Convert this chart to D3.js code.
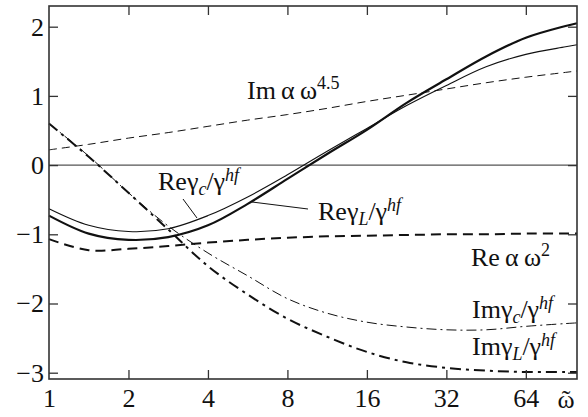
<!DOCTYPE html>
<html>
<head>
<meta charset="utf-8">
<script src="https://cdn.jsdelivr.net/npm/d3@7"></script>
</head>
<body style="margin:0">
<svg id="chart" width="588" height="417"></svg>
<script>
// Reduced frequency samples (log2 steps of one half)
const omega = [1, 1.414, 2, 2.828, 4, 5.657, 8, 11.31, 16, 22.63, 32, 45.25, 64, 90.51, 100];

const reGammaL = [-0.73, -0.99, -1.08, -1.04, -0.87, -0.56, -0.20, 0.16, 0.51, 0.90, 1.24, 1.57, 1.84, 2.01, 2.05];
const reGammaC = [-0.63, -0.87, -0.96, -0.92, -0.73, -0.46, -0.14, 0.20, 0.53, 0.86, 1.15, 1.42, 1.60, 1.71, 1.74];
const reAlpha  = [-1.07, -1.23, -1.21, -1.17, -1.12, -1.08, -1.05, -1.03, -1.02, -1.01, -1.00, -1.00, -0.99, -0.99, -0.99];
const imAlpha  = [0.22, 0.30, 0.39, 0.47, 0.56, 0.65, 0.73, 0.82, 0.92, 1.01, 1.10, 1.19, 1.27, 1.34, 1.36];
const imGammaC = [0.60, 0.13, -0.40, -0.88, -1.27, -1.60, -1.93, -2.14, -2.27, -2.34, -2.38, -2.38, -2.33, -2.29, -2.28];
const imGammaL = [0.60, 0.12, -0.40, -0.93, -1.46, -1.87, -2.22, -2.48, -2.70, -2.85, -2.93, -2.97, -2.99, -2.99, -2.99];

const xTicks = [1, 2, 4, 8, 16, 32, 64];
const yTicks = [-3, -2, -1, 0, 1, 2];

const FONT = '"Liberation Serif"';
const svg = d3.select("#chart");
const L = 49, R = 577, T = 6, B = 379;

const x = d3.scaleLog().domain([1, 100]).range([L, R]);
const y = d3.scaleLinear().domain([-3.091, 2.299]).range([B, T]);

function serif(sel, size) {
  return sel.style("font-family", FONT, "important").style("font-size", size + "px", "important");
}

// zero line
svg.append("line")
  .attr("x1", L).attr("x2", R)
  .attr("y1", y(0)).attr("y2", y(0))
  .attr("stroke", "#555").attr("stroke-width", 1.4);

// series
const series = [
  { v: imAlpha,  w: 1.0, dash: "8,5" },
  { v: reAlpha,  w: 2.0, dash: "10,6" },
  { v: reGammaC, w: 1.1, dash: null },
  { v: reGammaL, w: 2.2, dash: null },
  { v: imGammaC, w: 1.0, dash: "10,4,2,4" },
  { v: imGammaL, w: 2.0, dash: "11,5,3,5" }
];

const line = d3.line()
  .x((d, i) => x(omega[i]))
  .y(d => y(d))
  .curve(d3.curveCatmullRom.alpha(0.5));

const plot = svg.append("g");
series.forEach(s => {
  plot.append("path")
    .attr("d", line(s.v))
    .attr("fill", "none")
    .attr("stroke", "#111")
    .attr("stroke-width", s.w)
    .attr("stroke-dasharray", s.dash);
});

// axes with inward ticks on all four sides
const tickLen = 9;
const axisColor = "#333";
const gB = svg.append("g").attr("transform", `translate(0,${B})`)
  .call(d3.axisBottom(x).tickValues(xTicks).tickSizeInner(-tickLen).tickSizeOuter(0).tickFormat(d3.format("d")).tickPadding(10));
const gT = svg.append("g").attr("transform", `translate(0,${T})`)
  .call(d3.axisTop(x).tickValues(xTicks.slice(1)).tickSizeInner(-tickLen).tickSizeOuter(0).tickFormat(""));
const gL = svg.append("g").attr("transform", `translate(${L},0)`)
  .call(d3.axisLeft(y).tickValues(yTicks).tickSizeInner(-tickLen).tickSizeOuter(0)
    .tickFormat(d => d < 0 ? "\u2212" + Math.abs(d) : d).tickPadding(5));
const gR = svg.append("g").attr("transform", `translate(${R},0)`)
  .call(d3.axisRight(y).tickValues(yTicks).tickSizeInner(-tickLen).tickSizeOuter(0).tickFormat(""));

[gB, gT, gL, gR].forEach(g => {
  serif(g, 26);
  g.select(".domain").remove();
  g.selectAll(".tick line").attr("stroke", axisColor).attr("stroke-width", 1.3);
  serif(g.selectAll(".tick text").attr("fill", "#111"), 26);
});
gB.selectAll(".tick").filter(d => d === 1).select("line").remove();

// frame
svg.append("rect")
  .attr("x", L).attr("y", T).attr("width", R - L).attr("height", B - T)
  .attr("fill", "none").attr("stroke", axisColor).attr("stroke-width", 1.6);

// x-axis symbol: omega with tilde
serif(svg.append("text").attr("x", 566).attr("y", 408).attr("text-anchor", "middle")
  .attr("fill", "#111"), 26)
  .text("\u1FF6");

// curve labels
function label(x0, y0, parts) {
  const t = serif(svg.append("text").attr("x", x0).attr("y", y0).attr("fill", "#111"), 26);
  parts.forEach(p => {
    const ts = serif(t.append("tspan").text(p.s), p.sz || 26);
    if (p.it) ts.style("font-style", "italic");
    if (p.dy) ts.attr("dy", p.dy);
  });
  return t;
}

const sub = 18;
label(247, 99, [{ s: "Im" }, { s: "\u2009α\u2009ω" }, { s: "4.5", sz: sub, dy: -10 }]);
label(158, 190, [{ s: "Reγ" }, { s: "c", it: true, sz: sub, dy: 5 }, { s: "/γ", dy: -5 }, { s: "hf", it: true, sz: sub, dy: -9 }]);
label(318, 220, [{ s: "Reγ" }, { s: "L", it: true, sz: sub, dy: 5 }, { s: "/γ", dy: -5 }, { s: "hf", it: true, sz: sub, dy: -9 }]);
label(471, 266, [{ s: "Re" }, { s: "\u2009α\u2009ω" }, { s: "2", sz: sub, dy: -10 }]);
label(472, 318, [{ s: "Imγ" }, { s: "c", it: true, sz: sub, dy: 5 }, { s: "/γ", dy: -5 }, { s: "hf", it: true, sz: sub, dy: -9 }]);
label(472, 355, [{ s: "Imγ" }, { s: "L", it: true, sz: sub, dy: 5 }, { s: "/γ", dy: -5 }, { s: "hf", it: true, sz: sub, dy: -9 }]);

// leader lines
svg.append("line").attr("x1", 183).attr("y1", 199).attr("x2", 197).attr("y2", 218)
  .attr("stroke", "#111").attr("stroke-width", 1);
svg.append("line").attr("x1", 252).attr("y1", 202).attr("x2", 308).attr("y2", 209)
  .attr("stroke", "#111").attr("stroke-width", 1);
</script>
</body>
</html>
